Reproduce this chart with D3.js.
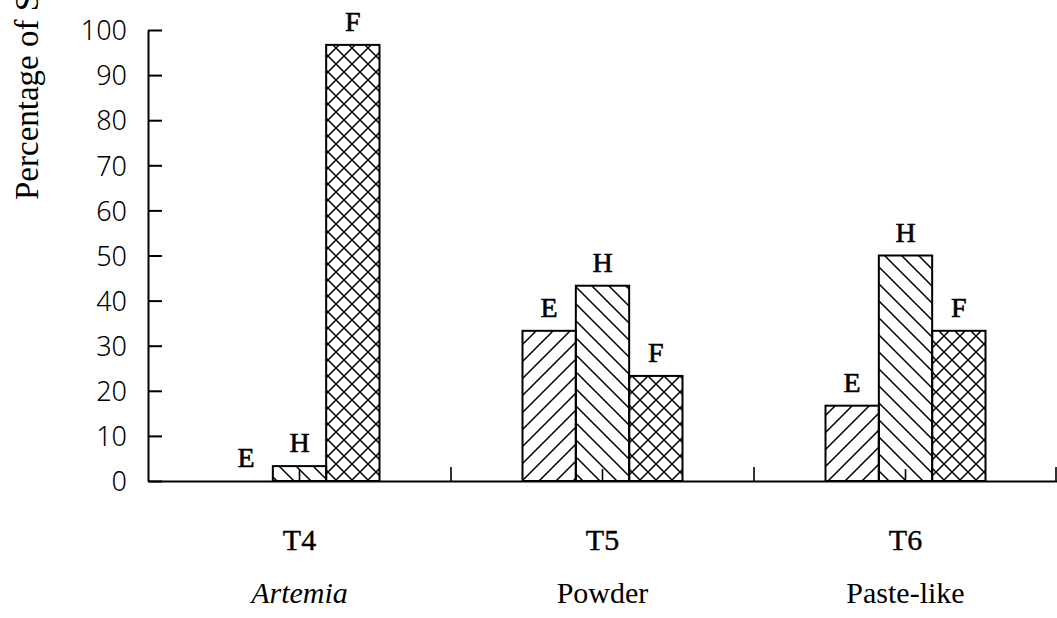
<!DOCTYPE html>
<html>
<head>
<meta charset="utf-8">
<script src="https://cdn.jsdelivr.net/npm/d3@7"></script>
<style>
  html, body { margin: 0; padding: 0; background: #fff; }
  svg { display: block; }
</style>
</head>
<body>
<svg id="chart" width="1057" height="618"></svg>
<script>
// ---- data ----
const categories = ["T4", "T5", "T6"];
const categoryNames = ["Artemia", "Powder", "Paste-like"];
const series = ["E", "H", "F"];
const valuesE = [0, 33.3, 16.7];
const valuesH = [3.3, 43.3, 50];
const valuesF = [96.7, 23.3, 33.3];
const yTicks = [0, 10, 20, 30, 40, 50, 60, 70, 80, 90, 100];
const yTitle = "Percentage of Stomachs";

const seriesValues = { E: valuesE, H: valuesH, F: valuesF };
const rows = [];
categories.forEach((c, i) => series.forEach(s => rows.push({ cat: c, s, v: seriesValues[s][i] })));

// ---- layout ----
const svg = d3.select("#chart");
const x0 = 148, x1 = 1057, yTop = 30, yBase = 481;

const x = d3.scaleBand().domain(categories).range([x0, x1]).padding(0);
const groupW = 160;
const xs = d3.scaleBand().domain(series).range([0, groupW]).padding(0);
const y = d3.scaleLinear().domain([0, 100]).range([yBase, yTop]);

// ---- patterns ----
const defs = svg.append("defs");
const P = 17;
const pE = defs.append("pattern").attr("id", "pE").attr("patternUnits", "userSpaceOnUse")
  .attr("width", P).attr("height", P);
pE.append("path").attr("d", `M-2,${P + 2} L${P + 2},-2 M-2,2 L2,-2 M${P - 2},${P + 2} L${P + 2},${P - 2}`)
  .attr("stroke", "#000").attr("stroke-width", 1.5).attr("fill", "none");

const pH = defs.append("pattern").attr("id", "pH").attr("patternUnits", "userSpaceOnUse")
  .attr("width", P).attr("height", P);
pH.append("path").attr("d", `M-2,-2 L${P + 2},${P + 2} M-2,${P - 2} L2,${P + 2} M${P - 2},-2 L${P + 2},2`)
  .attr("stroke", "#000").attr("stroke-width", 1.5).attr("fill", "none");

const Q = 16;
const pF = defs.append("pattern").attr("id", "pF").attr("patternUnits", "userSpaceOnUse")
  .attr("width", Q).attr("height", Q);
pF.append("path").attr("d", `M-1,${Q + 1} L${Q + 1},-1 M-1,-1 L${Q + 1},${Q + 1}`)
  .attr("stroke", "#000").attr("stroke-width", 1.5).attr("fill", "none");

// ---- bars ----
const barX = d => x(d.cat) + (x.bandwidth() - groupW) / 2 + xs(d.s);
svg.append("g").selectAll("rect").data(rows.filter(d => d.v > 0)).join("rect")
  .attr("x", barX)
  .attr("y", d => y(d.v))
  .attr("width", xs.bandwidth())
  .attr("height", d => y(0) - y(d.v))
  .attr("fill", d => `url(#p${d.s})`)
  .attr("stroke", "#000")
  .attr("stroke-width", 2);

// bar letters
svg.append("g").selectAll("text").data(rows).join("text")
  .attr("x", d => barX(d) + xs.bandwidth() / 2)
  .attr("y", d => y(d.v) - 14)
  .attr("text-anchor", "middle")
  .attr("font-family", "Liberation Serif, serif")
  .attr("font-size", 28)
  .attr("fill", "#000")
  .attr("stroke", "#000").attr("stroke-width", 0.6)
  .text(d => d.s);

// ---- y axis ----
const yAxis = d3.axisLeft(y).tickValues(yTicks).tickSize(-14).tickPadding(21).tickSizeOuter(0);
const gy = svg.append("g").attr("transform", `translate(${x0},0)`).call(yAxis);
gy.select(".domain").attr("stroke", "#000").attr("stroke-width", 2);
gy.selectAll(".tick line").attr("stroke", "#000").attr("stroke-width", 2);
gy.selectAll(".tick text").attr("font-family", "Noto Sans, DejaVu Sans, sans-serif")
  .attr("font-size", 27).attr("font-weight", 300).attr("fill", "#000").attr("dy", "0.36em");

// ---- x axis ----
const xAxis = d3.axisBottom(x).tickSize(0).tickFormat("");
const gx = svg.append("g").attr("transform", `translate(0,${yBase})`).call(xAxis);
gx.select(".domain").attr("stroke", "#000").attr("stroke-width", 2);
// centre ticks (pointing up)
gx.selectAll(".tick line").attr("y2", -12).attr("stroke", "#000").attr("stroke-width", 1.6);
// boundary ticks (between categories), pointing up
const bounds = categories.slice(1).map(c => x(c)).concat([x(categories[categories.length - 1]) + x.bandwidth() - 1]);
gx.selectAll(".bound").data(bounds).join("line").attr("class", "bound")
  .attr("x1", d => d).attr("x2", d => d).attr("y1", 0).attr("y2", -14)
  .attr("stroke", "#000").attr("stroke-width", 1.6);

// category labels
svg.append("g").selectAll("text").data(categories).join("text")
  .attr("x", d => x(d) + x.bandwidth() / 2)
  .attr("y", 550)
  .attr("text-anchor", "middle")
  .attr("font-family", "Liberation Serif, serif")
  .attr("font-size", 30)
  .attr("stroke", "#000").attr("stroke-width", 0.4)
  .text(d => d);

svg.append("g").selectAll("text").data(categoryNames).join("text")
  .attr("x", (d, i) => x(categories[i]) + x.bandwidth() / 2)
  .attr("y", 603)
  .attr("text-anchor", "middle")
  .attr("font-family", "Liberation Serif, serif")
  .attr("font-size", 30)
  .attr("font-style", (d, i) => i === 0 ? "italic" : "normal")
  .text(d => d);

// y title
svg.append("text")
  .attr("transform", "translate(38,200) rotate(-90)")
  .attr("text-anchor", "start")
  .attr("font-family", "Liberation Serif, serif")
  .attr("font-size", 33)
  .text(yTitle);
</script>
</body>
</html>
